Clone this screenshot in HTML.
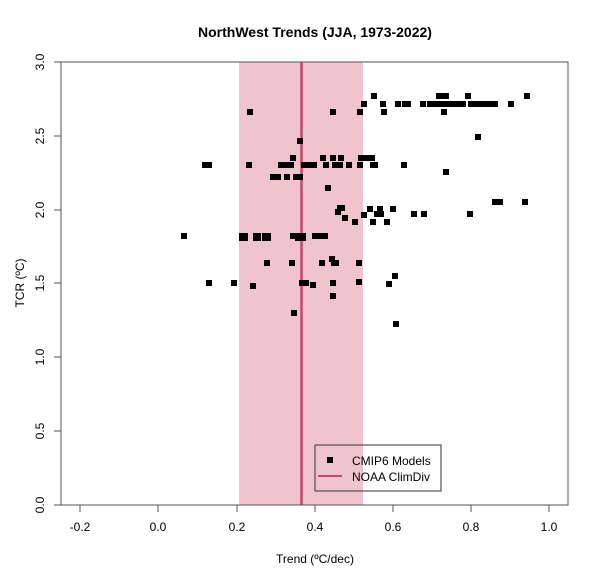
<!DOCTYPE html>
<html><head><style>body{margin:0;background:#fff}svg{display:block;font-family:"Liberation Sans",Arial,sans-serif}</style></head>
<body>
<svg width="600" height="582" viewBox="0 0 600 582">
<text x="315" y="37" text-anchor="middle" font-size="14" font-weight="bold">NorthWest Trends (JJA, 1973-2022)</text>
<rect x="239" y="62" width="124" height="443" fill="#f0c4cd"/>
<line x1="301.5" y1="62" x2="301.5" y2="505" stroke="#cc4466" stroke-width="2.5"/>
<rect x="61" y="62" width="507" height="443" fill="none" stroke="#555" stroke-width="1"/>
<g stroke="#555">
<line x1="80" y1="505" x2="80" y2="512"/><line x1="158" y1="505" x2="158" y2="512"/><line x1="237" y1="505" x2="237" y2="512"/><line x1="315" y1="505" x2="315" y2="512"/><line x1="393" y1="505" x2="393" y2="512"/><line x1="471" y1="505" x2="471" y2="512"/><line x1="549" y1="505" x2="549" y2="512"/>
<line x1="54" y1="62" x2="61" y2="62"/><line x1="54" y1="136" x2="61" y2="136"/><line x1="54" y1="210" x2="61" y2="210"/><line x1="54" y1="283" x2="61" y2="283"/><line x1="54" y1="357" x2="61" y2="357"/><line x1="54" y1="431" x2="61" y2="431"/><line x1="54" y1="505" x2="61" y2="505"/>
</g>
<g font-size="12" text-anchor="middle">
<text x="80" y="531">-0.2</text><text x="158" y="531">0.0</text><text x="237" y="531">0.2</text><text x="315" y="531">0.4</text><text x="393" y="531">0.6</text><text x="471" y="531">0.8</text><text x="549" y="531">1.0</text>
<g transform="translate(44,0)">
<text transform="translate(0,62) rotate(-90)">3.0</text><text transform="translate(0,136) rotate(-90)">2.5</text><text transform="translate(0,210) rotate(-90)">2.0</text><text transform="translate(0,283) rotate(-90)">1.5</text><text transform="translate(0,357) rotate(-90)">1.0</text><text transform="translate(0,431) rotate(-90)">0.5</text><text transform="translate(0,505) rotate(-90)">0.0</text>
</g>
<text x="315" y="563">Trend (ºC/dec)</text>
<text transform="translate(24,283) rotate(-90)">TCR (ºC)</text>
</g>
<g fill="#000">
<rect x="247" y="109" width="6" height="6"/><rect x="330" y="109" width="6" height="6"/><rect x="357" y="109" width="6" height="6"/><rect x="381" y="109" width="6" height="6"/><rect x="441" y="109" width="6" height="6"/>
<rect x="361" y="101" width="6" height="6"/><rect x="380" y="101" width="6" height="6"/><rect x="395" y="101" width="6" height="6"/><rect x="402" y="101" width="9" height="6"/><rect x="420" y="101" width="6" height="6"/><rect x="427" y="101" width="39" height="6"/><rect x="468" y="101" width="6" height="6"/><rect x="473" y="101" width="15" height="6"/><rect x="487" y="101" width="11" height="6"/><rect x="508" y="101" width="6" height="6"/>
<rect x="371" y="93" width="6" height="6"/><rect x="436" y="93" width="13" height="6"/><rect x="465" y="93" width="6" height="6"/><rect x="524" y="93" width="6" height="6"/>
<rect x="297" y="138" width="6" height="6"/><rect x="475" y="134" width="6" height="6"/><rect x="443" y="169" width="6" height="6"/>
<rect x="290" y="155" width="6" height="6"/><rect x="320" y="155" width="6" height="6"/><rect x="330" y="155" width="6" height="6"/><rect x="338" y="155" width="6" height="6"/><rect x="358" y="155" width="11" height="6"/><rect x="369" y="155" width="6" height="6"/>
<rect x="202" y="162" width="10" height="6"/><rect x="246" y="162" width="6" height="6"/><rect x="278" y="162" width="16" height="6"/><rect x="301" y="162" width="16" height="6"/><rect x="323" y="162" width="6" height="6"/><rect x="332" y="162" width="11" height="6"/><rect x="346" y="162" width="6" height="6"/><rect x="357" y="162" width="6" height="6"/><rect x="370" y="162" width="8" height="6"/><rect x="401" y="162" width="6" height="6"/>
<rect x="270" y="174" width="11" height="6"/><rect x="284" y="174" width="6" height="6"/><rect x="293" y="174" width="10" height="6"/><rect x="325" y="185" width="6" height="6"/>
<rect x="337" y="205" width="8" height="6"/><rect x="335" y="209" width="6" height="6"/><rect x="342" y="215" width="6" height="6"/><rect x="352" y="219" width="6" height="6"/><rect x="361" y="212" width="6" height="6"/><rect x="367" y="206" width="6" height="6"/><rect x="377" y="206" width="6" height="6"/><rect x="390" y="206" width="6" height="6"/><rect x="374" y="211" width="10" height="6"/><rect x="411" y="211" width="6" height="6"/><rect x="421" y="211" width="6" height="6"/><rect x="467" y="211" width="6" height="6"/><rect x="370" y="219" width="6" height="6"/><rect x="384" y="219" width="6" height="6"/><rect x="492" y="199" width="11" height="6"/><rect x="522" y="199" width="6" height="6"/>
<rect x="181" y="233" width="6" height="6"/><rect x="239" y="233" width="9" height="8"/><rect x="253" y="233" width="8" height="8"/><rect x="262" y="233" width="9" height="8"/><rect x="290" y="233" width="6" height="6"/><rect x="295" y="233" width="11" height="8"/><rect x="312" y="233" width="16" height="6"/>
<rect x="264" y="260" width="6" height="6"/><rect x="289" y="260" width="6" height="6"/><rect x="319" y="260" width="6" height="6"/><rect x="331" y="260" width="8" height="6"/><rect x="356" y="260" width="6" height="6"/><rect x="329" y="256" width="6" height="6"/>
<rect x="206" y="280" width="6" height="6"/><rect x="231" y="280" width="6" height="6"/><rect x="250" y="283" width="6" height="6"/><rect x="299" y="280" width="10" height="6"/><rect x="310" y="282" width="6" height="6"/><rect x="330" y="280" width="6" height="6"/><rect x="356" y="279" width="6" height="6"/><rect x="330" y="293" width="6" height="6"/><rect x="291" y="310" width="6" height="6"/><rect x="392" y="273" width="6" height="6"/><rect x="386" y="281" width="6" height="6"/><rect x="393" y="321" width="6" height="6"/>
</g>
<rect x="315" y="445" width="126" height="46" fill="none" stroke="#333"/>
<rect x="327" y="457" width="6" height="6" fill="#000"/>
<line x1="318" y1="476" x2="342" y2="476" stroke="#cc4466" stroke-width="2"/>
<text x="352" y="465" font-size="12">CMIP6 Models</text>
<text x="352" y="481" font-size="12">NOAA ClimDiv</text>
</svg>
</body></html>
